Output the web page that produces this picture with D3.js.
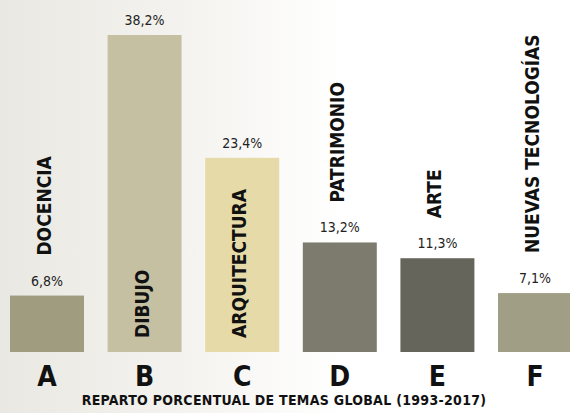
<!DOCTYPE html>
<html><head><meta charset="utf-8">
<script src="https://cdn.jsdelivr.net/npm/d3@7"></script>
<style>
html,body{margin:0;padding:0;background:#fff;}
svg{display:block;}
text{font-family:"DejaVu Sans Condensed","Liberation Sans Narrow","DejaVu Sans",sans-serif;font-stretch:condensed;}
</style></head>
<body>
<script>
const letters = ["A","B","C","D","E","F"];
const themes = ["DOCENCIA","DIBUJO","ARQUITECTURA","PATRIMONIO","ARTE","NUEVAS TECNOLOGÍAS"];
const values = [6.8, 38.2, 23.4, 13.2, 11.3, 7.1];
const valueLabels = ["6,8%","38,2%","23,4%","13,2%","11,3%","7,1%"];
const colors = ["#a09c80","#c6c0a3","#e6dba8","#7c7b6e","#66655b","#a19e86"];
const title = "REPARTO PORCENTUAL DE TEMAS GLOBAL (1993-2017)";

const W = 570, H = 413;
const svg = d3.select("body").append("svg").attr("width", W).attr("height", H);
const defs = svg.append("defs");
const grad = defs.append("linearGradient").attr("id","bg").attr("x1","0").attr("x2","1").attr("y1","0").attr("y2","0");
grad.append("stop").attr("offset","0").attr("stop-color","#e9e8e2");
grad.append("stop").attr("offset","0.3").attr("stop-color","#f3f2ee");
grad.append("stop").attr("offset","0.6").attr("stop-color","#ffffff");
grad.append("stop").attr("offset","1").attr("stop-color","#ffffff");
svg.append("rect").attr("width", W).attr("height", H).attr("fill","url(#bg)");

const x = d3.scaleBand().domain(letters).range([10, 572]).paddingInner(0.242).paddingOuter(0);
const y = d3.scaleLinear().domain([0, 38.2]).range([352, 35]);

const g = svg.append("g");
g.selectAll("rect.bar").data(values).join("rect").attr("class","bar")
  .attr("x",(d,i)=>x(letters[i])).attr("width",x.bandwidth())
  .attr("y",d=>y(d)).attr("height",d=>y(0)-y(d))
  .attr("fill",(d,i)=>colors[i]);

// value labels
g.selectAll("text.val").data(values).join("text").attr("class","val")
  .attr("x",(d,i)=>x(letters[i])+x.bandwidth()/2)
  .attr("y",d=>y(d)-10)
  .attr("text-anchor","middle").attr("font-size",14).attr("fill","#222")
  .text((d,i)=>valueLabels[i]);

// theme labels (rotated)
const inside = [false,true,true,false,false,false];
g.selectAll("text.theme").data(themes).join("text").attr("class","theme")
  .attr("transform",(d,i)=>{
    const cx = x(letters[i])+x.bandwidth()/2;
    const by = inside[i] ? y(0)-14 : y(values[i])-40;
    return `translate(${cx+4},${by}) rotate(-90)`;
  })
  .attr("text-anchor","start").attr("font-size",19).attr("font-weight","bold").attr("fill","#111")
  .text(d=>d);

// x axis letters
const xAxis = d3.axisBottom(x).tickSize(0).tickPadding(0);
const ax = svg.append("g").attr("transform","translate(0,386)").call(xAxis);
ax.select(".domain").remove();
ax.selectAll("text").attr("font-size",28).attr("font-weight","900").attr("fill","#111")
  .attr("dy",0).attr("style","font-family:'DejaVu Sans Condensed','DejaVu Sans',sans-serif;font-stretch:condensed;");

svg.append("text").attr("x",284).attr("y",405).attr("text-anchor","middle")
  .attr("font-size",14).attr("font-weight","bold").attr("fill","#111").attr("letter-spacing","0.3")
  .text(title);
</script>
</body></html>
